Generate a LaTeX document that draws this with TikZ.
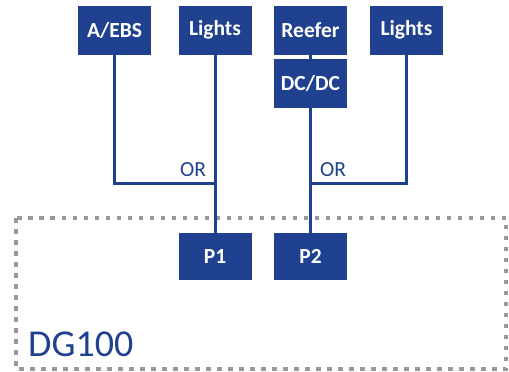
\documentclass[tikz,border=0pt]{standalone}
\usepackage{fontspec}
\setmainfont{Carlito}
\usetikzlibrary{positioning}
\definecolor{dgblue}{HTML}{1F418F}
\definecolor{dggray}{HTML}{999999}

\begin{document}
\begin{tikzpicture}[x=1pt, y=-1pt, node distance=4pt,
    unit/.style={fill=dgblue, text=white, font=\fontsize{21.5}{24}\selectfont\bfseries, minimum width=73pt, minimum height=49pt, inner sep=0pt},
    wire/.style={draw=dgblue, line width=3pt},
    orlabel/.style={text=dgblue, font=\fontsize{21.5}{24}\selectfont, inner sep=0pt}]
  \useasboundingbox (0,0) rectangle (509,372);

  % dashed DG100 outline
  \draw[dggray, line width=4.5pt, dash pattern=on 4.5pt off 6.5pt] (16,218) rectangle (506,369);
  \node[anchor=south west, text=dgblue, font=\fontsize{38}{44}\selectfont, inner sep=0pt] (dg) at (28,357) {DG100};

  \node[unit] (aebs) at (114.5,30) {A/EBS};
  \node[unit] (lightsA) at (215,30) {Lights};
  \node[unit] (reefer) at (310.5,30) {Reefer};
  \node[unit, below=of reefer] (dcdc) {DC/DC};
  \node[unit] (lightsB) at (406.5,30) {Lights};
  \node[unit, minimum height=47pt] (p1) at (215,256.5) {P1};
  \node[unit, minimum height=47pt] (p2) at (310.5,256.5) {P2};

  \coordinate (joinA) at (215,183);
  \coordinate (joinB) at (310.5,183);

  \draw[wire] (aebs.south) |- (joinA);
  \draw[wire] (lightsA.south) -- (p1.north);
  \draw[wire] (reefer.south) -- (dcdc.north);
  \draw[wire] (dcdc.south) -- (p2.north);
  \draw[wire] (lightsB.south) |- (joinB);

  \node[orlabel] (orA) at (193,170) {OR};
  \node[orlabel] (orB) at (333,170) {OR};
\end{tikzpicture}
\end{document}
